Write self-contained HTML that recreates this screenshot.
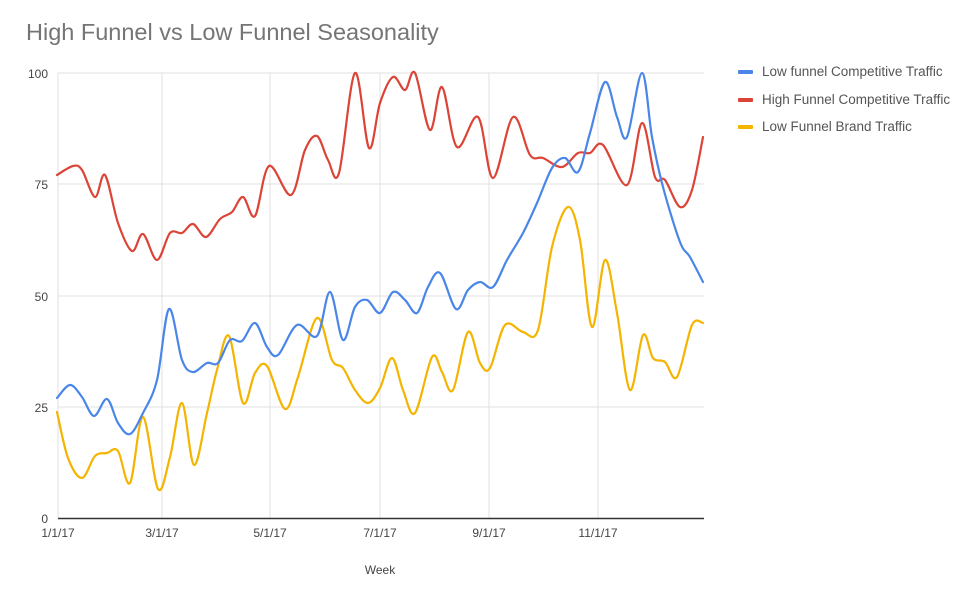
<!DOCTYPE html>
<html><head><meta charset="utf-8"><style>
html,body{margin:0;padding:0;background:#fff;}
svg{display:block;font-family:"Liberation Sans",Arial,sans-serif;}
</style></head><body>
<svg id="s" width="974" height="591" viewBox="0 0 974 591">
<text x="26" y="40" font-size="23.5" fill="#757575">High Funnel vs Low Funnel Seasonality</text>
<g stroke="#e0e0e0" stroke-width="1">
<line x1="58" y1="73" x2="704" y2="73"/><line x1="58" y1="184" x2="704" y2="184"/>
<line x1="58" y1="296" x2="704" y2="296"/><line x1="58" y1="407" x2="704" y2="407"/>
<line x1="162" y1="73" x2="162" y2="518"/><line x1="270" y1="73" x2="270" y2="518"/>
<line x1="380" y1="73" x2="380" y2="518"/><line x1="489" y1="73" x2="489" y2="518"/>
<line x1="598" y1="73" x2="598" y2="518"/><line x1="58" y1="73" x2="58" y2="518"/>
</g>
<line x1="58" y1="518.5" x2="704" y2="518.5" stroke="#333" stroke-width="1.5"/>
<g font-size="12" fill="#444" text-anchor="end">
<text x="48" y="78">100</text><text x="48" y="189">75</text><text x="48" y="301">50</text><text x="48" y="412">25</text><text x="48" y="523">0</text>
</g>
<g font-size="12" fill="#444" text-anchor="middle">
<text x="58" y="537">1/1/17</text><text x="162" y="537">3/1/17</text><text x="270" y="537">5/1/17</text>
<text x="380" y="537">7/1/17</text><text x="489" y="537">9/1/17</text><text x="598" y="537">11/1/17</text>
<text x="380" y="574">Week</text>
</g>
<g id="lines" fill="none" stroke-width="2.2" stroke-linejoin="round" stroke-linecap="round"></g>
<rect x="738" y="70" width="15" height="4" rx="1" fill="#4a86e8"/>
<rect x="738" y="98" width="15" height="4" rx="1" fill="#db4437"/>
<rect x="738" y="125" width="15" height="4" rx="1" fill="#f4b400"/>
<g font-size="13.5" fill="#555">
<text x="762" y="76">Low funnel Competitive Traffic</text>
<text x="762" y="104">High Funnel Competitive Traffic</text>
<text x="762" y="131">Low Funnel Brand Traffic</text>
</g>
</svg>
<script>
var red=[[57,175],[73,166],[82,170],[95,197],[105,175],[118,223],[132,251],[143,234],[157,260],[170,233],[182,233],[193,224],[206,237],[220,219],[232,212],[243,197],[255,216],[269,166],[291,195],[305,150],[317,136],[328,160],[339,173],[355,73],[369,148],[380,103],[393,77],[405,90],[415,73],[430,130],[442,87],[457,147],[478,117],[493,178],[513,117],[530,155],[543,158],[562,167],[578,153],[590,153],[603,145],[627,185],[642,123],[655,177],[665,180],[680,207],[692,190],[703,137]];
var blue=[[57,398],[70,385],[82,397],[94,416],[107,399],[118,423],[130,434],[143,413],[157,380],[169,309],[182,360],[193,372],[207,363],[218,363],[230,340],[242,341],[255,323],[267,347],[278,355],[297,325],[317,336],[330,292],[343,340],[355,307],[367,300],[380,313],[393,292],[405,300],[417,313],[428,287],[440,273],[456,309],[468,290],[480,282],[493,287],[507,260],[523,233],[537,203],[552,168],[565,158],[578,172],[590,133],[605,82],[617,117],[627,137],[642,73],[652,137],[663,187],[680,242],[690,257],[703,282]];
var yel=[[57,412],[68,458],[82,478],[95,456],[107,453],[118,451],[130,483],[143,417],[158,489],[170,457],[182,403],[194,465],[207,413],[217,370],[229,336],[243,403],[255,373],[267,366],[285,409],[298,377],[317,318],[332,360],[343,368],[355,390],[368,403],[380,388],[392,358],[403,390],[415,413],[432,357],[442,372],[453,390],[468,332],[480,363],[490,368],[505,325],[523,332],[538,330],[552,247],[568,207],[580,240],[592,327],[605,260],[617,313],[630,390],[643,335],[653,358],[665,362],[677,377],[692,325],[703,323]];
function path(p){var d="M"+p[0][0]+","+p[0][1];for(var i=0;i<p.length-1;i++){var p0=p[i-1]||p[i],p1=p[i],p2=p[i+1],p3=p[i+2]||p2;var t=1/6;d+=" C"+(p1[0]+(p2[0]-p0[0])*t)+","+(p1[1]+(p2[1]-p0[1])*t)+" "+(p2[0]-(p3[0]-p1[0])*t)+","+(p2[1]-(p3[1]-p1[1])*t)+" "+p2[0]+","+p2[1];}return d;}
var g=document.getElementById("lines");
[[yel,"#f4b400"],[red,"#db4437"],[blue,"#4a86e8"]].forEach(function(s){var e=document.createElementNS("http://www.w3.org/2000/svg","path");e.setAttribute("d",path(s[0]));e.setAttribute("stroke",s[1]);g.appendChild(e);});
</script>
</body></html>
